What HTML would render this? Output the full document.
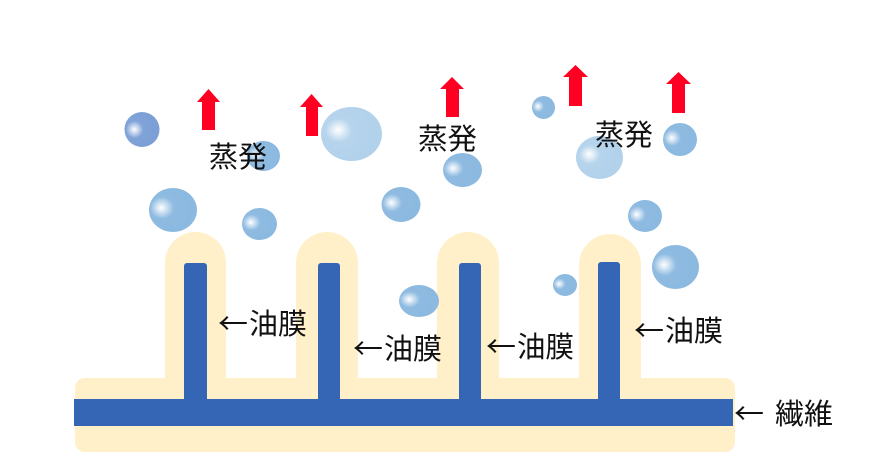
<!DOCTYPE html>
<html><head><meta charset="utf-8"><style>
html,body{margin:0;padding:0;background:#fff;}
svg{display:block;}
text{font-family:"Liberation Sans","Noto Sans CJK JP",sans-serif;fill:#111;}
text.ar{font-family:"Noto Sans CJK JP","Liberation Sans",sans-serif;}
</style></head><body>
<svg width="891" height="472" viewBox="0 0 891 472" xmlns="http://www.w3.org/2000/svg">
<defs>
<radialGradient id="gm" cx="0.3" cy="0.45" r="0.55" fx="0.25" fy="0.45">
<stop offset="0" stop-color="#ffffff"/>
<stop offset="0.45" stop-color="#8fbbe1"/>
<stop offset="1" stop-color="#8cb9e0"/>
</radialGradient>
<radialGradient id="gl" cx="0.3" cy="0.45" r="0.55" fx="0.28" fy="0.42">
<stop offset="0" stop-color="#ffffff"/>
<stop offset="0.4" stop-color="#b6d4ec"/>
<stop offset="1" stop-color="#b2d1eb"/>
</radialGradient>
<radialGradient id="gd" cx="0.3" cy="0.5" r="0.55" fx="0.28" fy="0.5">
<stop offset="0" stop-color="#ffffff"/>
<stop offset="0.45" stop-color="#80a3d8"/>
<stop offset="1" stop-color="#7c9fd5"/>
</radialGradient>
</defs>

<!-- cream oil film -->
<g fill="#fff0ca">
<rect x="75" y="378" width="660" height="74" rx="10"/>
<path d="M165,392 V262.5 A30.5,30.5 0 0 1 226,262.5 V392 Z"/>
<path d="M296,392 V263 A31,31 0 0 1 358,263 V392 Z"/>
<path d="M437,392 V263 A31,31 0 0 1 499,263 V392 Z"/>
<path d="M579,392 V265 A31,31 0 0 1 641,265 V392 Z"/>
</g>

<!-- blue fiber -->
<g fill="#3566b6">
<rect x="74" y="399" width="659" height="27"/>
<rect x="184" y="263" width="23" height="140" rx="3"/>
<rect x="318" y="263" width="22" height="140" rx="3"/>
<rect x="459" y="263" width="22" height="140" rx="3"/>
<rect x="598" y="262" width="22" height="141" rx="3"/>
</g>

<!-- bubbles -->
<ellipse cx="142" cy="129.5" rx="17.5" ry="17.5" fill="url(#gd)"/>
<ellipse cx="263.5" cy="156" rx="16.5" ry="15" fill="url(#gm)"/>
<ellipse cx="351.5" cy="134" rx="30.5" ry="27" fill="url(#gl)"/>
<ellipse cx="173" cy="210" rx="24" ry="22" fill="url(#gm)"/>
<ellipse cx="259.5" cy="224" rx="17.5" ry="16" fill="url(#gm)"/>
<ellipse cx="401" cy="204.5" rx="19.5" ry="17.5" fill="url(#gm)"/>
<ellipse cx="462.5" cy="170" rx="19.5" ry="17" fill="url(#gm)"/>
<ellipse cx="543.5" cy="107.5" rx="11.5" ry="11.5" fill="url(#gm)"/>
<ellipse cx="599.5" cy="157.5" rx="23.5" ry="21.5" fill="url(#gl)"/>
<ellipse cx="680" cy="139.5" rx="17" ry="16.5" fill="url(#gm)"/>
<ellipse cx="645" cy="216" rx="17" ry="16" fill="url(#gm)"/>
<ellipse cx="675.5" cy="267" rx="23.5" ry="22" fill="url(#gm)"/>
<ellipse cx="565" cy="285" rx="12" ry="11" fill="url(#gm)"/>
<ellipse cx="419" cy="301" rx="20" ry="16" fill="url(#gm)"/>

<!-- red arrows -->
<g fill="#ff0022">
<polygon points="208.5,89 220,102 215,102 215,130 202,130 202,102 197,102"/>
<polygon points="311.5,94 323,107 318,107 318,136 306,136 306,107 300,107"/>
<polygon points="452,77 464,89 459,89 459,117 446,117 446,89 440,89"/>
<polygon points="575.5,65 588,77 582,77 582,106 569,106 569,77 563,77"/>
<polygon points="678.5,72 691,84 685,84 685,113 672,113 672,84 666,84"/>
</g>

<!-- labels -->
<g font-size="29">
<text x="209" y="167" textLength="58" lengthAdjust="spacingAndGlyphs">蒸発</text>
<text x="418" y="149" textLength="59" lengthAdjust="spacingAndGlyphs">蒸発</text>
<text x="595" y="145" textLength="58" lengthAdjust="spacingAndGlyphs">蒸発</text>

<text class="ar" x="218" y="334" textLength="30" lengthAdjust="spacingAndGlyphs">←</text>
<text x="249" y="334" textLength="58" lengthAdjust="spacingAndGlyphs">油膜</text>
<text class="ar" x="353" y="359" textLength="30" lengthAdjust="spacingAndGlyphs">←</text>
<text x="384" y="359" textLength="58" lengthAdjust="spacingAndGlyphs">油膜</text>
<text class="ar" x="486" y="357" textLength="30" lengthAdjust="spacingAndGlyphs">←</text>
<text x="517" y="357" textLength="57" lengthAdjust="spacingAndGlyphs">油膜</text>
<text class="ar" x="634" y="341" textLength="30" lengthAdjust="spacingAndGlyphs">←</text>
<text x="665" y="341" textLength="58" lengthAdjust="spacingAndGlyphs">油膜</text>

<text class="ar" x="734" y="424" textLength="30" lengthAdjust="spacingAndGlyphs">←</text>
<text x="775" y="424" textLength="58" lengthAdjust="spacingAndGlyphs">繊維</text>
</g>
</svg>
</body></html>
